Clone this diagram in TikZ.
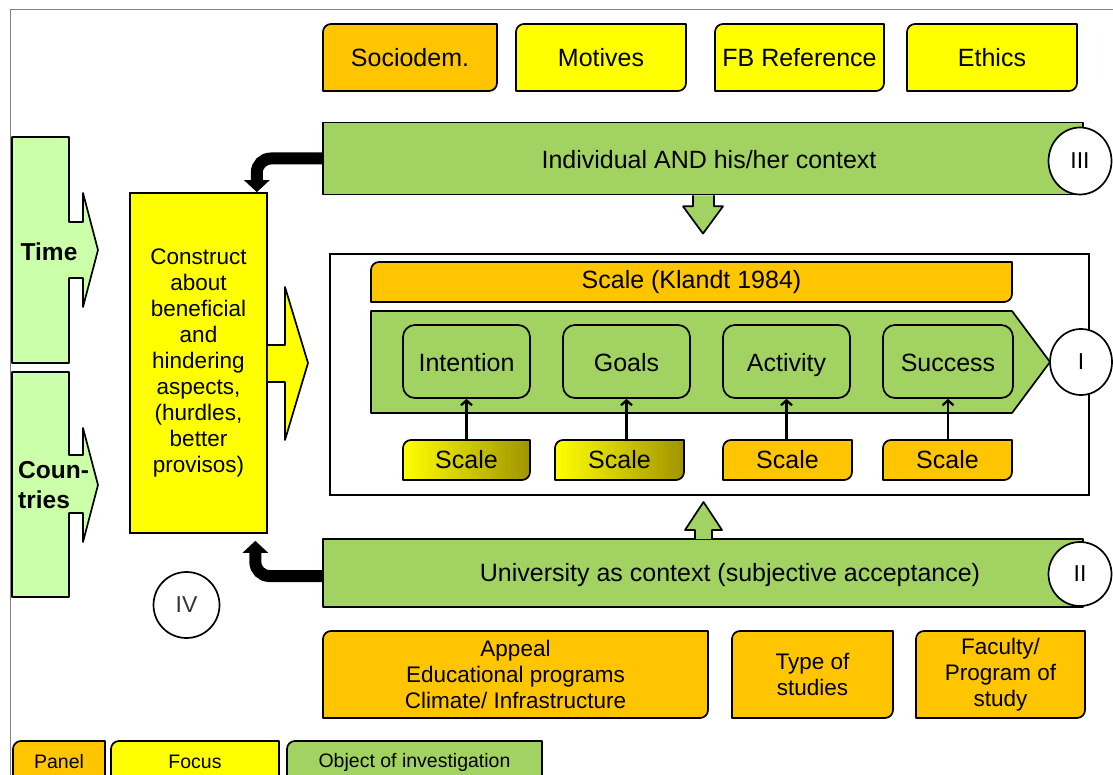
\documentclass[tikz,border=0pt]{standalone}
\usepackage{fontspec}
\setmainfont{Liberation Sans}
\usetikzlibrary{calc,shapes.geometric,arrows.meta}
\definecolor{orangeF}{RGB}{255,198,0}
\definecolor{yellowF}{RGB}{255,255,0}
\definecolor{greenF}{RGB}{162,211,98}
\definecolor{lgreenF}{RGB}{204,255,170}
\definecolor{oliveF}{RGB}{160,148,0}
\newcommand\fs[2]{\fontsize{#1}{#2}\selectfont}
% diagonal rounded box: [node opts]{name}{fill opts}{x1}{y1}{x2}{y2}{text}
\newcommand\dbox[8][]{%
  \coordinate (#2-nw) at (#4,#5);
  \coordinate (#2-se) at (#6,#7);
  \filldraw[boxline,#3] (#2-nw |- #2-se) -- ($(#2-nw)+(0,8)$) .. controls ($(#2-nw)+(0,3.6)$) and ($(#2-nw)+(3.6,0)$) .. ($(#2-nw)+(8,0)$) -- (#2-se |- #2-nw) -- ($(#2-se)+(0,-8)$) .. controls ($(#2-se)+(0,-3.6)$) and ($(#2-se)+(-3.6,0)$) .. ($(#2-se)+(-8,0)$) -- cycle;
  \node[inner sep=0pt,align=center,minimum width={(#6-#4)*1pt},minimum height={(#7-#5)*1pt},#1] (#2) at ({(#4+#6)/2},{(#5+#7)/2}) {#8};
}
\begin{document}
\begin{tikzpicture}[x=1pt,y=-1pt,
  boxline/.style={draw=black,line width=1.7pt,line join=round},
  band/.style={boxline,fill=greenF,rectangle,inner sep=0pt},
  ell/.style={ellipse,draw=black,line width=1.7pt,fill=white,inner sep=0pt,font=\fs{23}{26}},
  inbox/.style={draw=black,line width=1.7pt,fill=greenF,rounded corners=12pt,inner sep=0pt,minimum height=73,text height=22pt,text depth=2pt,font=\fs{25}{29}},
  blockarrow/.style={boxline,fill=greenF},
  bigtxt/.style={font=\fs{25}{29}},
  midtxt/.style={font=\fs{22.5}{26}},
  legtxt/.style={font=\fs{19.5}{23}},
  sarrow/.style={draw=black,line width=2.2pt,-{Straight Barb[length=5pt,width=11pt]}},
  backarrow/.style={draw=black,line width=12pt,rounded corners=14pt,-{Triangle[width=25pt,length=12pt]}}
]
\useasboundingbox (0,0) rectangle (1113,775);
\clip (0,0) rectangle (1113,775);
% page frame
\draw[gray,line width=1pt] (10,775) -- (10,10) -- (1113,10);

% top boxes
\dbox[bigtxt]{socio}{fill=orangeF}{323}{24}{497}{91}{Sociodem.}
\dbox[bigtxt]{motives}{fill=yellowF}{516}{24}{686}{91}{Motives}
\dbox[bigtxt]{fbref}{fill=yellowF}{715}{24}{884}{91}{FB Reference}
\dbox[bigtxt]{ethics}{fill=yellowF}{907}{24}{1077}{91}{Ethics}

% band III
\node[band,minimum width=760,minimum height=72] (III) at (703,158.5) {};
\node[bigtxt] (IIIt) at (709,160) {Individual AND his/her context};
\node[ell,minimum width=63,minimum height=67] (c3) at (1080,161) {III};

% main frame
\node[draw=black,line width=2.8pt,minimum width=759,minimum height=241,inner sep=0pt] (frame) at (709.5,374.5) {};
\draw[blockarrow] ($(III.south)+(-10,0)$) -- ($(III.south)+(-10,11)$) -- ($(III.south)+(-20,11)$) -- ($(frame.north)+(-6.5,-19)$) -- ($(III.south)+(20,11)$) -- ($(III.south)+(11,11)$) -- ($(III.south)+(11,0)$);

% Klandt bar
\dbox[bigtxt]{klandt}{fill=orangeF}{371}{262}{1012}{302}{Scale (Klandt 1984)}
% process pentagon
\coordinate (pt-a) at (371,311);
\filldraw[boxline,fill=greenF] (pt-a) -- (1012,311) -- (1050,362) -- (1012,413) -- (371,413) -- cycle;
\node[inbox,minimum width=127] (intention) at (466.5,361.5) {Intention};
\node[inbox,minimum width=127] (goals) at (626.5,361.5) {Goals};
\node[inbox,minimum width=127] (activity) at (786.5,361.5) {Activity};
\node[inbox,minimum width=130] (success) at (948,361.5) {Success};
\node[ell,minimum width=62,minimum height=66] (c1) at (1081,362) {I};

% scale boxes
\dbox[bigtxt]{s1}{left color=yellowF,middle color=yellowF!85!oliveF,right color=oliveF}{403}{440}{530}{480}{Scale}
\dbox[bigtxt]{s2}{left color=yellowF,middle color=yellowF!85!oliveF,right color=oliveF}{555}{440}{684}{480}{Scale}
\dbox[bigtxt]{s3}{fill=orangeF}{723}{440}{852}{480}{Scale}
\dbox[bigtxt]{s4}{fill=orangeF}{883}{440}{1012}{480}{Scale}
\draw[sarrow] (s1.north -| intention.south) -- (intention.south);
\draw[sarrow] (s2.north -| goals.south) -- (goals.south);
\draw[sarrow] (s3.north -| activity.south) -- (activity.south);
\draw[sarrow] (s4.north -| success.south) -- (success.south);

% band II
\node[band,minimum width=760,minimum height=68] (II) at (703,573) {};
\node[bigtxt] (IIt) at (730,575) {University as context (subjective acceptance)};
\node[ell,minimum width=63,minimum height=64] (c2) at (1080,574) {II};
\draw[blockarrow] (695,539) -- (695,530) -- (685,530) -- (703.5,502) -- (722,530) -- (712,530) -- (712,539);

% construct box
\node[draw=black,line width=1.7pt,fill=yellowF,minimum width=137,minimum height=340,inner sep=0pt,align=center,midtxt] (construct) at (198.5,363) {Construct\\about\\beneficial\\and\\hindering\\aspects,\\(hurdles,\\better\\provisos)};
\filldraw[boxline,fill=yellowF] (construct.east |- 0,345) -- (285,345) -- (285,287) -- (308,363) -- (285,440) -- (285,382) -- (construct.east |- 0,382);

% Time / Countries arrows
\filldraw[boxline,fill=lgreenF] (12,137) -- (69,137) -- (69,222) -- (83,222) -- (83,193) -- (98,250) -- (83,307) -- (83,278) -- (69,278) -- (69,363) -- (12,363) -- cycle;
\node[font=\fs{24.5}{29}\bfseries] (time) at (49,252) {Time};
\filldraw[boxline,fill=lgreenF] (12,372) -- (69,372) -- (69,455) -- (83,455) -- (83,428) -- (98,485) -- (83,542) -- (83,513) -- (69,513) -- (69,597) -- (12,597) -- cycle;
\node[font=\fs{24.5}{30}\bfseries,align=left,anchor=west,inner sep=0pt] (countries) at (18,485) {Coun-\\tries};

% feedback arrows
\draw[backarrow] (III.west) -| ([xshift=-11pt]construct.north east);
\draw[backarrow,shorten >=7pt] ([yshift=-3pt]II.west) -| ([xshift=-12.5pt]construct.south east);

% IV
\node[ell,minimum width=66,minimum height=66,text=black!80] (c4) at (186.5,605) {IV};

% bottom boxes
\dbox[midtxt]{appeal}{fill=orangeF}{323}{631}{708}{718}{Appeal\\Educational programs\\Climate/ Infrastructure}
\dbox[midtxt]{type}{fill=orangeF}{732}{631}{893}{718}{Type of\\studies}
\dbox[midtxt]{faculty}{fill=orangeF}{916}{631}{1085}{718}{Faculty/\\Program of\\study}

% legend
\dbox[legtxt]{panel}{fill=orangeF}{13}{741}{105}{783}{Panel}
\dbox[legtxt]{focus}{fill=yellowF}{111}{741}{279}{783}{Focus}
\dbox[legtxt]{object}{fill=greenF}{287}{741}{542}{783}{Object of investigation}
\end{tikzpicture}
\end{document}
